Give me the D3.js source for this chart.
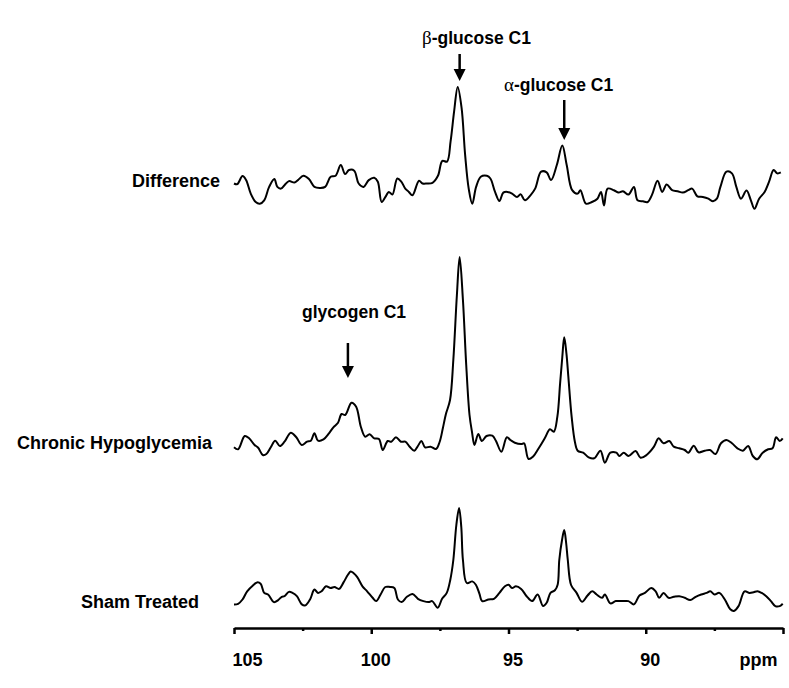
<!DOCTYPE html>
<html>
<head>
<meta charset="utf-8">
<script src="https://cdn.jsdelivr.net/npm/d3@7"></script>
<style>
  body { margin: 0; background: #fff; }
  text { font-family: "Liberation Sans", Arial, sans-serif; font-weight: bold; fill: #000; }
</style>
</head>
<body>
<script>
// chemical shift (ppm) and intensity (a.u.)
var diffPpm = [105.0,104.88,104.69,104.56,104.39,104.21,104.06,103.90,103.72,103.53,103.42,103.29,103.16,103.00,102.80,102.67,102.47,102.27,102.07,101.87,101.68,101.48,101.30,101.11,100.95,100.81,100.62,100.46,100.28,100.09,99.89,99.76,99.62,99.45,99.36,99.23,99.05,98.90,98.76,98.63,98.50,98.26,98.13,97.97,97.77,97.57,97.41,97.24,97.11,96.98,96.85,96.71,96.58,96.45,96.32,96.18,96.01,95.79,95.66,95.49,95.33,95.19,95.04,94.87,94.69,94.56,94.40,94.20,94.03,93.81,93.61,93.45,93.24,93.04,92.88,92.68,92.48,92.38,92.18,91.96,91.76,91.63,91.52,91.39,91.16,90.99,90.83,90.63,90.43,90.30,90.10,89.93,89.77,89.57,89.40,89.24,89.04,88.84,88.65,88.45,88.31,88.12,87.92,87.72,87.55,87.41,87.28,87.06,86.86,86.70,86.53,86.33,86.17,86.04,85.87,85.67,85.51,85.34,85.21,85.08]
var diffInt = [4.5,3.8,11.9,7.9,-5.6,-14,-15.7,-12.3,1.1,8.9,1.1,-0.6,2.8,6.9,5.5,7.9,12.2,8.9,1.1,0.1,1.1,11.2,12.2,23,13.9,18,17.3,4.5,1.1,7.9,10.2,6.2,-14,-7.3,-3.9,-6.6,9.5,6.2,-0.6,-3.9,-7.3,7.2,4.5,4.5,5.2,12.2,27.1,26.4,46.6,76.9,101.1,80.3,33.1,-0.6,-15.7,1.1,11.2,12.2,9.5,-3.9,-13,-4.6,-3.9,-5.6,-9,-6.3,-12.3,-7.3,-0.6,16.3,15.6,7.9,23,42.5,23,-2.2,-5.6,-2.2,-15.7,-14,-10.7,-3.9,-17.4,-0.6,-2.2,-4.6,-3.2,-6.6,1.1,-12.3,-13.3,-14,-6.6,7.2,-3.9,3.5,-2.2,-3.2,-4.6,-2.2,-0.6,-8.3,-9,-10.7,-13.3,-10.7,1.1,16.3,14.6,1.1,-10.7,-2.6,-12.3,-20.8,-10.7,-3.9,6.2,18,14.6,15.6]

var chronicPpm = [105.0,104.85,104.61,104.45,104.25,104.12,103.95,103.82,103.66,103.50,103.33,103.16,102.93,102.73,102.53,102.34,102.20,102.07,101.94,101.74,101.54,101.38,101.21,101.08,100.95,100.72,100.55,100.38,100.22,100.06,99.89,99.72,99.58,99.40,99.27,99.10,98.92,98.76,98.60,98.43,98.30,98.17,98.04,97.84,97.64,97.51,97.39,97.28,97.13,97.01,96.88,96.78,96.66,96.54,96.42,96.33,96.24,96.10,95.97,95.80,95.59,95.46,95.26,95.06,94.93,94.77,94.53,94.43,94.27,94.11,93.90,93.68,93.49,93.35,93.22,93.12,93.04,92.97,92.89,92.82,92.70,92.58,92.48,92.28,92.08,91.88,91.65,91.49,91.29,91.07,90.96,90.80,90.63,90.37,90.19,89.97,89.70,89.53,89.35,89.14,88.98,88.78,88.58,88.45,88.25,88.08,87.85,87.66,87.46,87.26,87.06,86.86,86.66,86.46,86.27,86.10,85.94,85.74,85.54,85.38,85.25,85.12,85.01]
var chronicInt = [2.7,0.7,14,11.7,5,2.3,-5,-4,2.7,9.3,4,8.3,17.3,12.7,5,8.3,9.3,16.7,9.3,10.7,16.7,22.7,27.3,36,35,47.3,43.3,23.3,13.3,15.7,11.7,11,0,9,8.3,12.7,8.3,8.3,3.3,-0.7,4,9,2.7,3.3,1,8,22,36,50,90,155,193,150,85,35,18,5,16,9,14,14.3,9.3,-1.7,12.7,10,7.3,6,6.7,-9,-6.7,1.7,11.7,20.7,18.3,33.3,66.7,93,112.7,96.7,73.3,33.3,8,-0.7,-2.7,-7.3,-8.3,-0.7,-12.7,-2.7,-2.7,-6,-2.7,-6,-1,-7.7,-5,3.3,11.7,6.7,9,3.3,1.7,0,-2.7,4.3,-2.3,-0.7,0,-4,6.7,10,6.7,1.7,-0.7,4,-6,-9.3,-2.7,0.7,1.7,12.7,9,11.7]

var shamPpm = [105.0,104.85,104.69,104.52,104.32,104.16,104.03,103.90,103.76,103.55,103.39,103.26,103.16,103.00,102.87,102.71,102.53,102.40,102.23,102.07,101.94,101.81,101.65,101.48,101.34,101.17,101.01,100.85,100.75,100.64,100.51,100.32,100.15,99.95,99.82,99.66,99.49,99.32,99.16,99.03,98.89,98.70,98.50,98.30,98.10,97.91,97.78,97.58,97.42,97.25,97.12,97.01,96.90,96.80,96.72,96.66,96.52,96.32,96.19,96.06,95.96,95.73,95.53,95.33,95.13,95.00,94.87,94.73,94.54,94.34,94.14,93.94,93.74,93.61,93.47,93.31,93.21,93.15,93.05,92.97,92.90,92.84,92.72,92.52,92.32,92.12,91.95,91.79,91.59,91.49,91.29,91.09,90.83,90.63,90.43,90.23,90.03,89.80,89.64,89.51,89.35,89.17,88.98,88.78,88.58,88.38,88.18,87.98,87.78,87.65,87.49,87.32,87.12,86.92,86.79,86.62,86.40,86.22,86.07,85.93,85.78,85.61,85.44,85.28,85.12,85.01]
var shamInt = [0.6,1.2,5.5,13.7,19.3,22.6,21.3,12.1,10.5,2.9,4.9,8.2,8.8,13.1,12.1,8.8,0.6,-0.4,5.5,15.4,12.1,13.7,18.7,17,18,16.1,22.6,30.2,33.5,31.8,27.9,18.7,13.7,7.2,3.9,10.5,18,18,17,5.5,2.9,8.2,11.1,6.2,3.9,2.9,3.9,-2.7,6.2,12.1,25.3,45,80,97,78,45,22,23.6,20.3,11.4,3.9,5.5,6.2,12.1,18.7,20.3,17,18.7,16.1,8.8,3.9,10.5,-1.1,2.2,12.1,14.7,20.3,45,65,75,62,45,20,12.1,3.2,9.5,13.7,10.5,7.2,10.5,1.6,3.9,3.9,3.9,0.6,9.5,12.1,17,13.7,7.2,12.1,7.2,8.2,8.8,7.2,4.9,8.2,10.5,12.1,13.7,10.5,12.1,5.5,-4.3,-6,-1.1,13.7,12.1,12.8,13.7,12.1,8.8,3.9,-1.1,-1.1,1.2]

var traceNames = ["Difference", "Chronic Hypoglycemia", "Sham Treated"]
var peakNames = ["-glucose C1", "-glucose C1", "glycogen C1"]
var peakGreek = ["\u03b2", "\u03b1", ""]
var peakPpm = [96.78, 92.97, 100.85]
var majorTicks = [105, 100, 95, 90, 85]
var minorTicks = [102.5, 97.5, 92.5, 87.5]

var width = 789, height = 688

var svg = d3.select("body").append("svg")
  .attr("width", width)
  .attr("height", height)

var x = d3.scaleLinear().domain([105, 85]).range([234, 783])

// layout of the three stacked spectra
var traces = [
  {ppm: diffPpm, val: diffInt, base: 188, labelX: 220, labelY: 187},
  {ppm: chronicPpm, val: chronicInt, base: 450, labelX: 212, labelY: 449},
  {ppm: shamPpm, val: shamInt, base: 605, labelX: 199, labelY: 608}
]

traces.forEach(function(t, k) {
  var y = d3.scaleLinear().domain([0, 100]).range([t.base, t.base - 100])
  var line = d3.line()
    .x(function(i) { return x(t.ppm[i]) })
    .y(function(i) { return y(t.val[i]) })
    .curve(d3.curveCatmullRom.alpha(0.5))

  svg.append("path")
    .attr("d", line(d3.range(t.ppm.length)))
    .attr("fill", "none")
    .attr("stroke", "#000")
    .attr("stroke-width", 2)
    .attr("stroke-linejoin", "round")

  svg.append("text")
    .attr("x", t.labelX)
    .attr("y", t.labelY)
    .attr("text-anchor", "end")
    .attr("font-size", 18)
    .text(traceNames[k])
})

// x axis
var axisY = 628
var major = svg.append("g")
  .attr("transform", "translate(0," + axisY + ")")
  .call(d3.axisBottom(x).tickValues(majorTicks).tickSize(6).tickSizeOuter(0)
    .tickFormat(function(d) { return d === 85 ? "ppm" : d }))

major.select(".domain").attr("stroke-width", 2.5)
major.selectAll(".tick line").attr("stroke-width", 2.5)
major.selectAll(".tick text")
  .attr("y", 38)
  .attr("dy", 0)
  .attr("font-size", 18)
  .attr("font-family", null)
  .attr("text-anchor", function(d) { return d === 105 ? "start" : d === 85 ? "end" : "middle" })
  .attr("x", function(d) { return d === 105 ? -2 : d === 85 ? -6 : 4 })

var minor = svg.append("g")
  .attr("transform", "translate(0," + axisY + ")")
  .call(d3.axisBottom(x).tickValues(minorTicks).tickSize(3).tickSizeOuter(0).tickFormat(""))
minor.select(".domain").remove()
minor.selectAll(".tick line").attr("stroke-width", 2.5)

// peak annotations
var notes = [
  {textX: 422, textY: 44, top: 54, tip: 81},
  {textX: 504, textY: 91, top: 100, tip: 140},
  {textX: 302, textY: 318, top: 343, tip: 378}
]

notes.forEach(function(n, k) {
  var ax = x(peakPpm[k])
  var t = svg.append("text")
    .attr("x", n.textX)
    .attr("y", n.textY)
    .attr("font-size", 17.5)
  if (peakGreek[k]) {
    t.append("tspan")
      .style("font-family", "'Liberation Serif', 'Times New Roman', serif")
      .style("font-weight", "normal")
      .attr("font-size", 19)
      .text(peakGreek[k])
  }
  t.append("tspan").text(peakNames[k])

  svg.append("line")
    .attr("x1", ax).attr("x2", ax)
    .attr("y1", n.top).attr("y2", n.tip - 10)
    .attr("stroke", "#000")
    .attr("stroke-width", 2.5)
  svg.append("path")
    .attr("d", "M" + (ax - 6) + "," + (n.tip - 12) + "L" + (ax + 6) + "," + (n.tip - 12) + "L" + ax + "," + n.tip + "Z")
    .attr("fill", "#000")
})
</script>
</body>
</html>
